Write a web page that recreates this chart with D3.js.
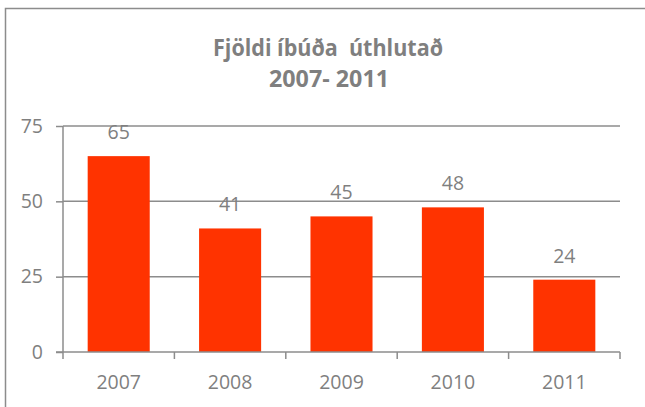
<!DOCTYPE html>
<html lang="is">
  <head>
    <meta charset="utf-8" />
    <style>
      html, body { margin: 0; padding: 0; background: #fff; }
      svg { display: block; }
      text { font-family: "Open Sans", sans-serif; fill: #7f7f7f; }
      .title text { white-space: pre; }
    </style>
  </head>
  <body>
    <svg id="chart" width="645" height="407"></svg>
    <script src="https://cdn.jsdelivr.net/npm/d3@7"></script>
    <script>
      const years = ["2007", "2008", "2009", "2010", "2011"];
      const allocated = [65, 41, 45, 48, 24];
      const yTicks = [0, 25, 50, 75];
      const titleLines = ["Fjöldi íbúða  úthlutað", "2007- 2011"];

      const width = 645;
      const height = 407;
      const margin = { top: 126, right: 25, bottom: 55, left: 63 };

      const svg = d3.select("#chart");

      // outer frame, runs off the right and bottom edge like the original
      svg.append("rect")
        .attr("x", 5.5)
        .attr("y", 8.5)
        .attr("width", width + 10)
        .attr("height", height + 10)
        .attr("fill", "none")
        .attr("stroke", "#8c8c8c")
        .attr("stroke-width", 1.5);

      const x = d3.scaleBand()
        .domain(years)
        .range([margin.left, width - margin.right])
        .paddingInner(0.443)
        .paddingOuter(0.2215);

      const y = d3.scaleLinear()
        .domain([0, 75])
        .range([height - margin.bottom, margin.top]);

      // gridlines
      svg.append("g")
        .selectAll("line")
        .data(yTicks.filter(d => d > 0))
        .join("line")
        .attr("x1", margin.left)
        .attr("x2", width - margin.right)
        .attr("y1", d => y(d))
        .attr("y2", d => y(d))
        .attr("stroke", "#8c8c8c")
        .attr("stroke-width", 1.5);

      // bars
      svg.append("g")
        .selectAll("rect")
        .data(allocated)
        .join("rect")
        .attr("x", (d, i) => x(years[i]))
        .attr("width", x.bandwidth())
        .attr("y", d => y(d))
        .attr("height", d => y(0) - y(d))
        .attr("fill", "#ff3300");

      // value labels
      svg.append("g")
        .selectAll("text")
        .data(allocated)
        .join("text")
        .attr("x", (d, i) => x(years[i]) + x.bandwidth() / 2)
        .attr("y", d => y(d) - 17)
        .attr("text-anchor", "middle")
        .attr("font-size", 19.5)
        .text(d => d);

      // y axis
      const yAxis = d3.axisLeft(y)
        .tickValues(yTicks)
        .tickSize(7)
        .tickPadding(13);
      const gy = svg.append("g")
        .attr("transform", `translate(${margin.left},0)`)
        .call(yAxis);
      gy.select(".domain").remove();
      gy.append("line")
        .attr("y1", y(0))
        .attr("y2", y(75))
        .attr("stroke", "#8c8c8c")
        .attr("stroke-width", 1.5);
      gy.selectAll(".tick line").attr("stroke", "#8c8c8c").attr("stroke-width", 1.5);
      gy.selectAll(".tick text")
        .attr("font-size", 19.5)
        .attr("font-family", "Open Sans, sans-serif")
        .attr("fill", "#7f7f7f");

      // x axis with ticks between categories
      const gx = svg.append("g")
        .attr("transform", `translate(0,${y(0)})`);
      gx.append("line")
        .attr("x1", margin.left - 7)
        .attr("x2", width - margin.right)
        .attr("stroke", "#8c8c8c")
        .attr("stroke-width", 1.5);
      const step = x.step();
      const bounds = d3.range(years.length + 1).map(i => margin.left + i * step);
      gx.selectAll(".sep")
        .data(bounds)
        .join("line")
        .attr("class", "sep")
        .attr("x1", d => d)
        .attr("x2", d => d)
        .attr("y1", 0)
        .attr("y2", 7)
        .attr("stroke", "#8c8c8c")
        .attr("stroke-width", 1.5);
      gx.selectAll(".lbl")
        .data(years)
        .join("text")
        .attr("class", "lbl")
        .attr("x", d => x(d) + x.bandwidth() / 2)
        .attr("y", 37)
        .attr("text-anchor", "middle")
        .attr("font-size", 19.5)
        .text(d => d);

      // title
      const title = svg.append("g")
        .attr("class", "title")
        .attr("font-weight", "bold")
        .attr("font-size", 23);
      title.append("text")
        .attr("x", 328)
        .attr("y", 56)
        .attr("text-anchor", "middle")
        .attr("textLength", 230)
        .attr("lengthAdjust", "spacingAndGlyphs")
        .text(titleLines[0]);
      title.append("text")
        .attr("x", 329)
        .attr("y", 87)
        .attr("text-anchor", "middle")
        .attr("textLength", 120)
        .attr("lengthAdjust", "spacingAndGlyphs")
        .text(titleLines[1]);
    </script>
  </body>
</html>
